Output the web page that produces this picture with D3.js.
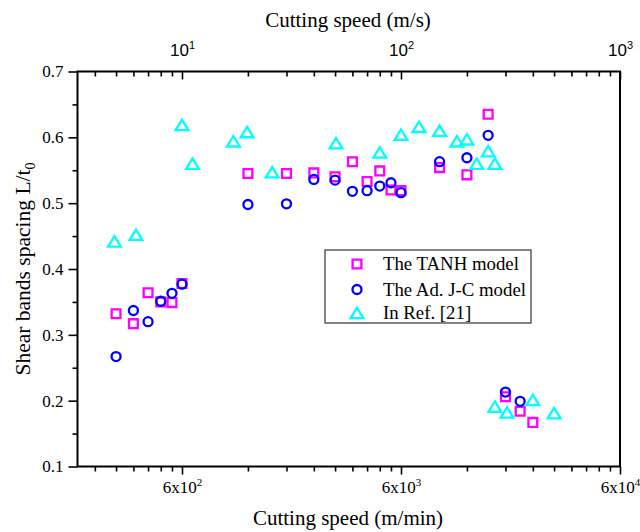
<!DOCTYPE html>
<html>
<head>
<meta charset="utf-8">
<script src="https://cdn.jsdelivr.net/npm/d3@7"></script>
<style>
  html, body { margin: 0; padding: 0; background: #fff; }
  svg { display: block; font-family: "Liberation Serif", "Times New Roman", serif; }
</style>
</head>
<body>
<svg id="chart" width="640" height="532"></svg>
<script>
// Cutting speed in m/min for the two model series
const speedModel = [300, 360, 420, 480, 540, 600, 1200, 1800, 2400, 3000, 3600, 4200, 4800, 5400, 6000, 9000, 12000, 15000, 18000, 21000, 24000];
const tanhValues = [0.332, 0.317, 0.364, 0.350, 0.349, 0.378, 0.545, 0.545, 0.546, 0.540, 0.563, 0.533, 0.549, 0.520, 0.519, 0.554, 0.543, 0.635, 0.206, 0.184, 0.167];
const speedJC = [300, 360, 420, 480, 540, 600, 1200, 1800, 2400, 3000, 3600, 4200, 4800, 5400, 6000, 9000, 12000, 15000, 18000, 21000];
const jcValues = [0.267, 0.337, 0.320, 0.351, 0.363, 0.377, 0.498, 0.499, 0.536, 0.535, 0.518, 0.519, 0.526, 0.531, 0.516, 0.563, 0.569, 0.603, 0.213, 0.199];
// Reference data
const speedRef = [295, 370, 600, 670, 1030, 1190, 1550, 3030, 4800, 6000, 7250, 9000, 10800, 12000, 13300, 15000, 16100, 16100, 18300, 24000, 30000];
const refValues = [0.442, 0.452, 0.619, 0.560, 0.594, 0.608, 0.547, 0.591, 0.577, 0.604, 0.616, 0.610, 0.594, 0.597, 0.560, 0.579, 0.560, 0.191, 0.182, 0.201, 0.181];

const seriesNames = ["The TANH model", "The Ad. J-C model", "In Ref. [21]"];
const seriesColors = ["#ff00ff", "#0000ff", "#00ffff"];

// Tick values: top axis in m/s, bottom axis = m/s x 60 (m/min)
const majorSec = [10, 100, 1000];
const minorSec = [4, 5, 6, 7, 8, 9, 20, 30, 40, 50, 60, 70, 80, 90, 200, 300, 400, 500, 600, 700, 800, 900];
const topExp = [1, 2, 3];
const bottomExp = [2, 3, 4];
const yMajor = [0.1, 0.2, 0.3, 0.4, 0.5, 0.6, 0.7];
const yMinor = [0.15, 0.25, 0.35, 0.45, 0.55, 0.65];

const svg = d3.select("#chart");
const m = { left: 77.5, right: 620, top: 71.5, bottom: 466.5 };

const x = d3.scaleLog().domain([200, 60000]).range([m.left, m.right]);
const xs = d3.scaleLog().domain([200 / 60, 1000]).range([m.left, m.right]);
const y = d3.scaleLinear().domain([0.1, 0.7]).range([m.bottom, m.top]);

// Bottom axis (m/min), ticks outward
const gB = svg.append("g").attr("transform", `translate(0,${m.bottom})`);
gB.call(d3.axisBottom(x).tickValues(minorSec.map(v => v * 60)).tickSize(5).tickFormat(""));
gB.selectAll(".tick line").attr("stroke-width", 1.6);
const gB2 = svg.append("g").attr("transform", `translate(0,${m.bottom})`);
gB2.call(d3.axisBottom(x).tickValues(majorSec.map(v => v * 60)).tickSize(8).tickPadding(6).tickFormat(""));
gB2.selectAll(".tick line").attr("stroke-width", 1.6);
gB2.selectAll(".tick text").each(function (d, i) {
  const t = d3.select(this).attr("font-size", 17).attr("fill", "#000").attr("font-family", "Liberation Serif");
  t.append("tspan").text("6x10");
  t.append("tspan").attr("font-size", 11).attr("dy", -7).text(bottomExp[i]);
});
svg.selectAll(".domain").remove();

// Top axis (m/s), ticks inward
const gT = svg.append("g").attr("transform", `translate(0,${m.top})`);
gT.call(d3.axisBottom(xs).tickValues(minorSec).tickSize(5).tickFormat(""));
gT.selectAll(".tick line").attr("stroke-width", 1.6);
const gT2 = svg.append("g").attr("transform", `translate(0,${m.top})`);
gT2.call(d3.axisBottom(xs).tickValues(majorSec).tickSize(8).tickFormat(""));
gT2.selectAll(".tick line").attr("stroke-width", 1.6);
gT2.selectAll(".tick").each(function (d, i) {
  const t = d3.select(this).append("text")
    .attr("y", -16).attr("text-anchor", "middle")
    .attr("font-size", 17).attr("fill", "#000");
  t.append("tspan").text("10");
  t.append("tspan").attr("font-size", 11).attr("dy", -7).text(topExp[i]);
});
svg.selectAll(".domain").remove();

// Left axis, ticks outward
const gL = svg.append("g").attr("transform", `translate(${m.left},0)`);
gL.call(d3.axisLeft(y).tickValues(yMinor).tickSize(5).tickFormat(""));
gL.selectAll(".tick line").attr("stroke-width", 1.6);
const gL2 = svg.append("g").attr("transform", `translate(${m.left},0)`);
gL2.call(d3.axisLeft(y).tickValues(yMajor).tickSize(9).tickPadding(5).tickFormat(d3.format(".1f")));
gL2.selectAll(".tick line").attr("stroke-width", 1.6);
gL2.selectAll(".tick text").attr("font-size", 17).attr("fill", "#000").attr("font-family", "Liberation Serif");
svg.selectAll(".domain").remove();

// Plot frame
svg.append("rect")
  .attr("x", m.left).attr("y", m.top)
  .attr("width", m.right - m.left).attr("height", m.bottom - m.top)
  .attr("fill", "none").attr("stroke", "#000").attr("stroke-width", 2);

// Axis titles
svg.append("text").attr("x", 348).attr("y", 27)
  .attr("text-anchor", "middle").attr("font-size", 21).text("Cutting speed (m/s)");
svg.append("text").attr("x", 348).attr("y", 525)
  .attr("text-anchor", "middle").attr("font-size", 21).text("Cutting speed (m/min)");
const yt = svg.append("text")
  .attr("transform", `translate(30,${(m.top + m.bottom) / 2}) rotate(-90)`)
  .attr("text-anchor", "middle").attr("font-size", 21.5);
yt.append("tspan").text("Shear bands spacing L/t");
yt.append("tspan").attr("font-size", 14).attr("dy", 5).text("0");

// Marker shapes
const markers = [
  "M-4.4,-4.4H4.4V4.4H-4.4Z",
  "M4.5,0A4.5,4.5 0 1,1 -4.5,0A4.5,4.5 0 1,1 4.5,0Z",
  "M0,-5.2L6.4,5.2H-6.4Z"
];

const series = [
  { xs: speedModel, ys: tanhValues },
  { xs: speedJC, ys: jcValues },
  { xs: speedRef, ys: refValues }
];

series.forEach((s, k) => {
  svg.append("g").selectAll("path")
    .data(s.xs.map((v, i) => [v, s.ys[i]]))
    .join("path")
    .attr("d", markers[k])
    .attr("transform", d => `translate(${x(d[0])},${y(d[1])})`)
    .attr("fill", "none")
    .attr("stroke", seriesColors[k])
    .attr("stroke-width", 2.3);
});

// Legend
const lg = svg.append("g");
lg.append("rect").attr("x", 325).attr("y", 250).attr("width", 206).attr("height", 73)
  .attr("fill", "#fff").attr("stroke", "#333").attr("stroke-width", 1.2);
const ly = [264, 289.5, 313];
seriesNames.forEach((name, k) => {
  lg.append("path").attr("d", markers[k])
    .attr("transform", `translate(357,${ly[k]})`)
    .attr("fill", "none").attr("stroke", seriesColors[k]).attr("stroke-width", 2.3);
  lg.append("text").attr("x", 383).attr("y", ly[k] + 6)
    .attr("font-size", 18.8).text(name);
});
</script>
</body>
</html>
